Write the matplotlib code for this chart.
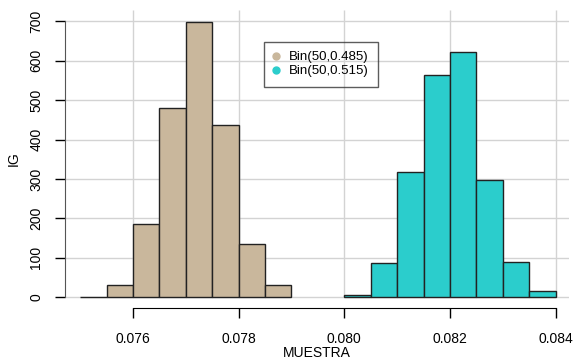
"""Histograms of two binomial sample proportions."""

import matplotlib.pyplot as plt
from matplotlib.lines import Line2D

plt.rcParams["font.family"] = ["Liberation Sans", "DejaVu Sans"]

# bin edges (left) and counts for each sample
bin_width = 0.0005
left_edges_a = [0.0750, 0.0755, 0.0760, 0.0765, 0.0770, 0.0775, 0.0780, 0.0785]
counts_a = [2, 31, 186, 479, 699, 438, 136, 30]
left_edges_b = [0.0800, 0.0805, 0.0810, 0.0815, 0.0820, 0.0825, 0.0830, 0.0835]
counts_b = [6, 88, 318, 565, 621, 298, 90, 15]

labels = ["Bin(50,0.485)", "Bin(50,0.515)"]
colors = ["#C9B79C", "#2BCDCC"]

x_ticks = [0.076, 0.078, 0.080, 0.082, 0.084]
y_ticks = [0, 100, 200, 300, 400, 500, 600, 700]

fs = 10

fig = plt.figure(figsize=(5.79, 3.64), dpi=100)
ax = fig.add_axes([65 / 579, 56 / 364, 504 / 579, 298 / 364])
ax.set_xlim(0.074714, 0.084252)
ax.set_ylim(-27.1, 728.7)

# light grid, drawn under the bars
ax.vlines(x_ticks, 0, 728.7, color="#D3D3D3", lw=1, zorder=0)
ax.hlines(y_ticks, 0.074714, 0.084252, color="#D3D3D3", lw=1, zorder=0)

ax.bar(left_edges_a, counts_a, width=bin_width, align="edge",
       color=colors[0], edgecolor="#222222", linewidth=1, zorder=2)
ax.bar(left_edges_b, counts_b, width=bin_width, align="edge",
       color=colors[1], edgecolor="#222222", linewidth=1, zorder=2)

for side in ["top", "right"]:
    ax.spines[side].set_visible(False)
ax.spines["left"].set_bounds(0, 700)
ax.spines["bottom"].set_bounds(0.076, 0.084)
ax.spines["left"].set_color("#555555")
ax.spines["bottom"].set_color("black")

ax.set_xticks(x_ticks)
ax.set_xticklabels([f"{t:.3f}" for t in x_ticks])
ax.set_yticks(y_ticks)
ax.set_yticklabels([str(t) for t in y_ticks], rotation=90, va="center")
ax.tick_params(axis="both", direction="out", length=7.5, width=1,
               labelsize=fs, colors="black")
ax.tick_params(axis="x", pad=10)
ax.tick_params(axis="y", pad=8)

ax.set_xlabel("MUESTRA", fontsize=fs)
ax.xaxis.set_label_coords(0.5, -0.128)
ax.set_ylabel("IG", fontsize=fs)
ax.yaxis.set_label_coords(-0.088, 0.5)

handles = [Line2D([], [], marker="o", ls="none", color=c, markersize=5)
           for c in colors]
leg = fig.legend(handles, labels, loc="upper left",
                 bbox_to_anchor=(264 / 579, 1 - 42 / 364),
                 borderaxespad=0, fontsize=9.5, frameon=True, fancybox=False,
                 handlelength=0.4, handletextpad=0.8, labelspacing=0.12,
                 borderpad=0.7)
leg.get_frame().set_edgecolor("#333333")
leg.get_frame().set_facecolor("none")
leg.get_frame().set_linewidth(1)

fig.savefig("out.png", dpi=100)
plt.close(fig)
